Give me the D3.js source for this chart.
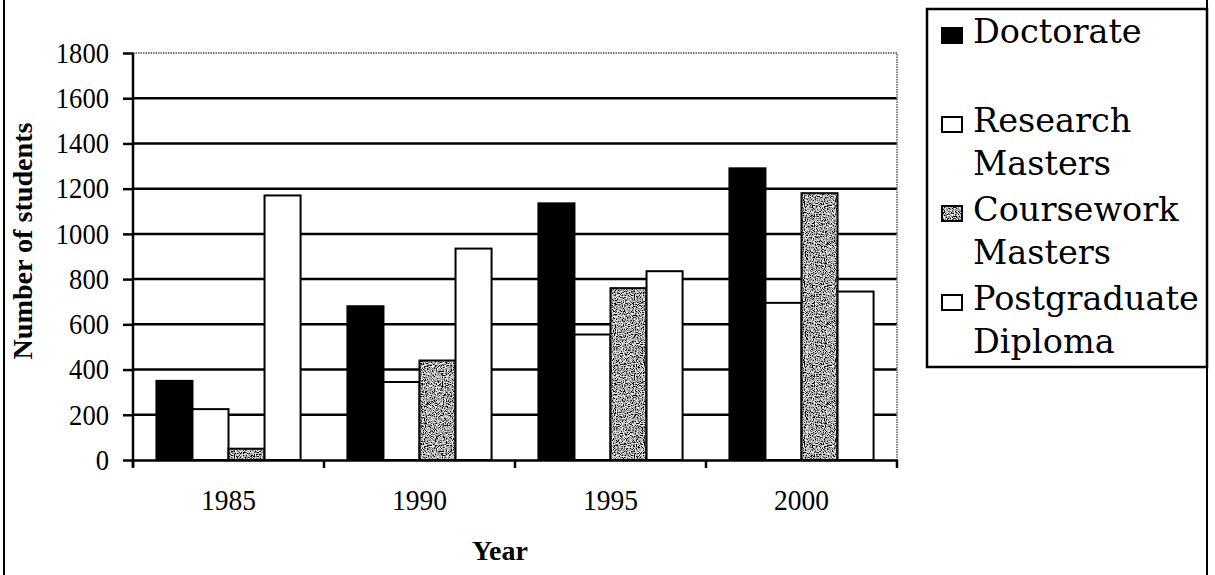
<!DOCTYPE html>
<html>
<head>
<meta charset="utf-8">
<script src="https://cdn.jsdelivr.net/npm/d3@7"></script>
<style>
  body { margin: 0; background: #fff; }
  svg { display: block; }
</style>
</head>
<body>
<div id="chart"></div>
<script>
// data
const years = ["1985", "1990", "1995", "2000"];
const seriesNames = ["Doctorate", "Research Masters", "Coursework Masters", "Postgraduate Diploma"];
const doctorate = [350, 680, 1135, 1290];
const researchMasters = [225, 345, 555, 695];
const courseworkMasters = [50, 440, 760, 1180];
const postgradDiploma = [1170, 935, 835, 745];
const yTicks = [0, 200, 400, 600, 800, 1000, 1200, 1400, 1600, 1800];
const legendLines = [["Doctorate"], ["Research", "Masters"], ["Coursework", "Masters"], ["Postgraduate", "Diploma"]];

const allValues = [doctorate, researchMasters, courseworkMasters, postgradDiploma];

const W = 1215, H = 575;
const plot = { left: 133, right: 897, top: 53, bottom: 460 };
const serif = "'Liberation Serif', 'Times New Roman', serif";
const digitW = 13.3; // width per digit in the tick labels

const svg = d3.select("#chart").append("svg")
  .attr("width", W).attr("height", H);

// speckled grey fill for coursework bars
const defs = svg.append("defs");
const f = defs.append("filter").attr("id", "speckle")
  .attr("x", 0).attr("y", 0).attr("width", 1).attr("height", 1);
f.append("feTurbulence").attr("type", "fractalNoise")
  .attr("baseFrequency", 0.9).attr("numOctaves", 2).attr("seed", 3);
f.append("feColorMatrix").attr("type", "saturate").attr("values", 0);
const ct = f.append("feComponentTransfer");
["R", "G", "B"].forEach(c => ct.append("feFunc" + c)
  .attr("type", "linear").attr("slope", 4).attr("intercept", -1.6));
ct.append("feFuncA").attr("type", "linear").attr("slope", 0).attr("intercept", 1);
const pat = defs.append("pattern").attr("id", "grain")
  .attr("patternUnits", "userSpaceOnUse").attr("width", 80).attr("height", 80);
pat.append("rect").attr("width", 80).attr("height", 80).attr("filter", "url(#speckle)");

const fills = ["#000", "#fff", "url(#grain)", "#fff"];

// scales
const y = d3.scaleLinear().domain([0, 1800]).range([plot.bottom, plot.top]);
const x0 = d3.scaleBand().domain(years).range([plot.left, plot.right]);
const x1 = d3.scaleBand().domain(seriesNames).range([0, x0.bandwidth()])
  .paddingInner(0).paddingOuter(0.65);

// outer frame
svg.append("rect").attr("x", 4).attr("y", -5).attr("width", 1203).attr("height", H + 10)
  .attr("fill", "none").attr("stroke", "#000").attr("stroke-width", 2);

// gridlines
svg.append("g").selectAll("line")
  .data(yTicks.filter(d => d > 0 && d < 1800))
  .join("line")
  .attr("x1", plot.left).attr("x2", plot.right)
  .attr("y1", d => y(d)).attr("y2", d => y(d))
  .attr("stroke", "#000").attr("stroke-width", 2.5);

// plot border top/right (grey dotted)
svg.append("path")
  .attr("d", `M${plot.left},${y(1800)}H${plot.right}V${plot.bottom}`)
  .attr("fill", "none").attr("stroke", "#777").attr("stroke-width", 1.8)
  .attr("stroke-dasharray", "1.5,1");

// bars
const barData = [];
years.forEach((yr, i) => {
  seriesNames.forEach((s, j) => barData.push({ year: yr, series: s, j, value: allValues[j][i] }));
});
svg.append("g").selectAll("rect")
  .data(barData)
  .join("rect")
  .attr("x", d => x0(d.year) + x1(d.series))
  .attr("y", d => y(d.value))
  .attr("width", x1.bandwidth())
  .attr("height", d => y(0) - y(d.value))
  .attr("fill", d => fills[d.j])
  .attr("stroke", "#000").attr("stroke-width", 2);

// y axis
const yAxis = svg.append("g")
  .attr("transform", `translate(${plot.left},0)`)
  .call(d3.axisLeft(y).tickValues(yTicks).tickFormat(d3.format("d"))
    .tickSize(10).tickPadding(14).tickSizeOuter(0));
yAxis.select(".domain").remove();
yAxis.selectAll(".tick line").attr("stroke-width", 2.5);
yAxis.append("line").attr("x1", 0).attr("x2", 0).attr("y1", plot.top).attr("y2", plot.bottom + 7)
  .attr("stroke", "#000").attr("stroke-width", 2.5);
yAxis.selectAll(".tick text")
  .style("font-family", serif).style("font-size", "29px").attr("fill", "#000")
  .attr("textLength", d => String(d).length * digitW).attr("lengthAdjust", "spacingAndGlyphs");

// x axis
const xAxis = svg.append("g")
  .attr("transform", `translate(0,${plot.bottom})`)
  .call(d3.axisBottom(x0).tickSize(0).tickPadding(29));
xAxis.select(".domain").attr("stroke-width", 2.5);
xAxis.selectAll(".tick text")
  .style("font-family", serif).style("font-size", "29px").attr("fill", "#000")
  .attr("textLength", 55).attr("lengthAdjust", "spacingAndGlyphs");
xAxis.selectAll(".boundary")
  .data(years.map(d => x0(d)).concat([plot.right]))
  .join("line").attr("class", "boundary")
  .attr("x1", d => d).attr("x2", d => d).attr("y1", 0).attr("y2", 8)
  .attr("stroke", "#000").attr("stroke-width", 2.5);

// axis titles
svg.append("text")
  .attr("x", 500).attr("y", 560)
  .attr("text-anchor", "middle")
  .style("font-family", serif).style("font-weight", "bold").style("font-size", "27px")
  .attr("textLength", 56).attr("lengthAdjust", "spacingAndGlyphs")
  .text("Year");

svg.append("text")
  .attr("transform", "translate(32,241) rotate(-90)")
  .attr("text-anchor", "middle")
  .style("font-family", serif).style("font-weight", "bold").style("font-size", "28px")
  .attr("textLength", 237).attr("lengthAdjust", "spacingAndGlyphs")
  .text("Number of students");

// legend
const legend = svg.append("g");
legend.append("rect").attr("x", 927).attr("y", 9).attr("width", 280).attr("height", 358)
  .attr("fill", "#fff").attr("stroke", "#000").attr("stroke-width", 2.5);

const item = legend.selectAll(".legend-item")
  .data(seriesNames)
  .join("g").attr("class", "legend-item")
  .attr("transform", (d, i) => `translate(0,${43 + i * 89})`);

item.append("rect")
  .attr("x", 942).attr("y", -15).attr("width", 20).attr("height", 15)
  .attr("fill", (d, i) => fills[i]).attr("stroke", "#000").attr("stroke-width", 2);

item.append("text")
  .style("font-family", "'DejaVu Serif', serif").style("font-size", "33.5px").attr("fill", "#000")
  .selectAll("tspan")
  .data((d, i) => legendLines[i])
  .join("tspan")
  .attr("x", 973).attr("y", (d, k) => k * 43)
  .text(d => d);
</script>
</body>
</html>
